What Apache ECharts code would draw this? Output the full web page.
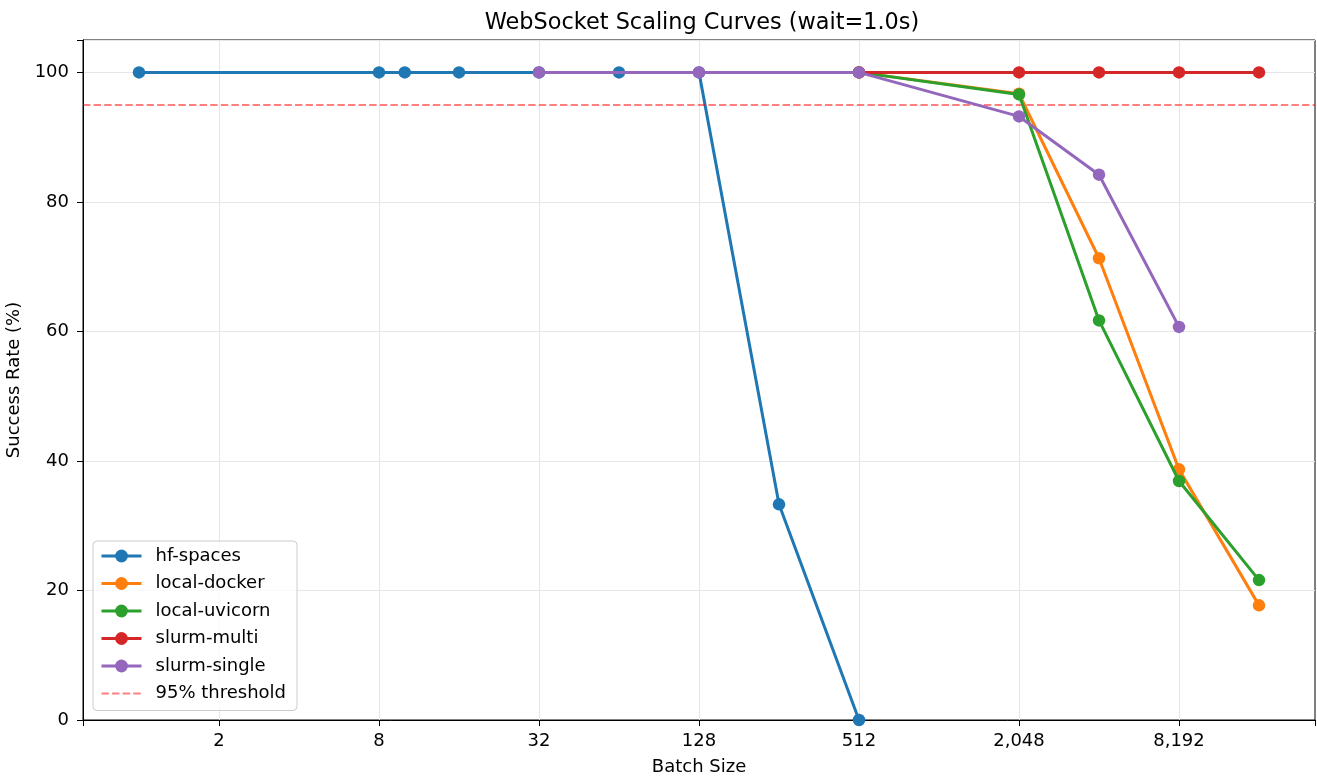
<!DOCTYPE html>
<html>
<head>
<meta charset="utf-8">
<script src="https://cdn.jsdelivr.net/npm/echarts@6/dist/echarts.min.js"></script>
<style>
html,body{margin:0;padding:0;background:#fff;}
#chart{width:1317px;height:776px;}
</style>
</head>
<body>
<div id="chart"></div>
<script>
// ---- data ----
const batchHF = [1, 8, 10, 16, 32, 64, 128, 256, 512];
const rateHF = [100, 100, 100, 100, 100, 100, 100, 33.3, 0];
const batchDocker = [512, 2048, 4096, 8192, 16384];
const rateDocker = [100, 96.7, 71.3, 38.7, 17.7];
const batchUvicorn = [512, 2048, 4096, 8192, 16384];
const rateUvicorn = [100, 96.6, 61.7, 36.9, 21.6];
const batchMulti = [512, 2048, 4096, 8192, 16384];
const rateMulti = [100, 100, 100, 100, 100];
const batchSingle = [32, 128, 512, 2048, 4096, 8192];
const rateSingle = [100, 100, 100, 93.2, 84.2, 60.7];
const thresholdValue = 95;
const xTicks = [2, 8, 32, 128, 512, 2048, 8192];
const yTicks = [0, 20, 40, 60, 80, 100];
const seriesNames = ['hf-spaces', 'local-docker', 'local-uvicorn', 'slurm-multi', 'slurm-single'];
const seriesColors = ['#1f77b4', '#ff7f0e', '#2ca02c', '#d62728', '#9467bd'];
const thresholdName = '95% threshold';

const zip = (xs, ys) => xs.map((x, i) => [x, ys[i]]);
const allData = [
  zip(batchHF, rateHF),
  zip(batchDocker, rateDocker),
  zip(batchUvicorn, rateUvicorn),
  zip(batchMulti, rateMulti),
  zip(batchSingle, rateSingle)
];

const FONT = 'DejaVu Sans';
const FS = 18;
// x range in log2 units (matplotlib-style 5% margins)
const xMinExp = -0.7, xMaxExp = 14.7;

const chart = echarts.init(document.getElementById('chart'), null, {renderer: 'canvas'});

const lineSeries = seriesNames.map((name, i) => ({
  name: name,
  type: 'line',
  xAxisIndex: 0,
  data: allData[i],
  symbol: 'circle',
  symbolSize: 12.5,
  showSymbol: true,
  color: seriesColors[i],
  lineStyle: {width: 3, color: seriesColors[i]},
  itemStyle: {color: seriesColors[i], borderWidth: 0},
  emphasis: {disabled: true},
  animation: false,
  clip: true,
  z: 3 + i
}));

lineSeries.push({
  name: thresholdName,
  type: 'line',
  xAxisIndex: 0,
  data: [],
  symbol: 'none',
  color: 'rgba(255,0,0,0.5)',
  lineStyle: {width: 2, type: [7.4, 3.2], color: 'rgba(255,0,0,0.5)'},
  itemStyle: {opacity: 0},
  animation: false,
  z: 9,
  markLine: {
    silent: true,
    symbol: ['none', 'none'],
    label: {show: false},
    animation: false,
    lineStyle: {width: 2, type: [7.4, 3.2], color: 'rgba(255,0,0,0.5)'},
    data: [{yAxis: thresholdValue}]
  }
});

const legendData = seriesNames.map(n => ({name: n}))
  .concat([{name: thresholdName, lineStyle: {width: 2}}]);

const option = {
  backgroundColor: '#ffffff',
  animation: false,
  textStyle: {fontFamily: FONT},
  title: {
    text: 'WebSocket Scaling Curves (wait=1.0s)',
    left: 697,
    textAlign: 'center',
    top: 7,
    textStyle: {fontFamily: FONT, fontSize: 22.4, fontWeight: 'normal', color: '#000'}
  },
  grid: {
    left: 83, right: 2, top: 40, bottom: 56,
    containLabel: false,
    outerBoundsMode: 'none',
    show: true,
    borderColor: '#000',
    borderWidth: 1,
    backgroundColor: 'transparent'
  },
  legend: {
    orient: 'vertical',
    left: 93,
    top: 541,
    itemWidth: 40,
    itemHeight: 16,
    itemGap: 9.5,
    padding: [6, 11, 8, 7],
    backgroundColor: 'rgba(255,255,255,0.8)',
    borderColor: '#cccccc',
    borderWidth: 1,
    borderRadius: 4,
    lineStyle: {width: 3},
    textStyle: {fontFamily: FONT, fontSize: FS, color: '#000', padding: [0, 0, 0, 9]},
    data: legendData
  },
  xAxis: [
    {
      type: 'log',
      logBase: 2,
      min: Math.pow(2, xMinExp),
      max: Math.pow(2, xMaxExp),
      position: 'bottom',
      name: 'Batch Size',
      nameLocation: 'middle',
      nameGap: 38,
      nameTextStyle: {fontFamily: FONT, fontSize: FS, color: '#000'},
      axisLine: {show: true, onZero: false, lineStyle: {color: '#000', width: 1}},
      axisTick: {show: false, customValues: xTicks},
      axisLabel: {
        show: true, margin: 12, customValues: xTicks,
        fontFamily: FONT, fontSize: FS, color: '#000',
        formatter: v => Math.round(v).toLocaleString('en-US')
      },
      splitLine: {show: true, customValues: xTicks, lineStyle: {color: '#e6e6e6', width: 1}},
      minorTick: {show: false},
      minorSplitLine: {show: false}
    },
    {
      // tick-only companion axis: base-4 log ticks, offset by one octave,
      // land on 2, 8, 32, ... of the main axis
      type: 'log',
      logBase: 4,
      min: Math.pow(2, xMinExp) / 2,
      max: Math.pow(2, xMaxExp) / 2,
      position: 'bottom',
      axisLine: {show: false},
      axisTick: {show: true, length: 6, lineStyle: {color: '#000', width: 1}},
      axisLabel: {show: false},
      splitLine: {show: false},
      minorTick: {show: false},
      minorSplitLine: {show: false}
    }
  ],
  yAxis: {
    type: 'value',
    min: 0,
    max: 105,
    interval: 20,
    name: 'Success Rate (%)',
    nameLocation: 'middle',
    nameGap: 56,
    nameRotate: 90,
    nameTextStyle: {fontFamily: FONT, fontSize: FS, color: '#000'},
    axisLine: {show: true, onZero: false, lineStyle: {color: '#000', width: 1}},
    axisTick: {show: true, inside: false, length: 6, lineStyle: {color: '#000', width: 1}},
    axisLabel: {show: true, margin: 14, customValues: yTicks, fontFamily: FONT, fontSize: FS, color: '#000'},
    splitLine: {show: true, lineStyle: {color: '#e6e6e6', width: 1}}
  },
  series: lineSeries
};

chart.setOption(option);
</script>
</body>
</html>
